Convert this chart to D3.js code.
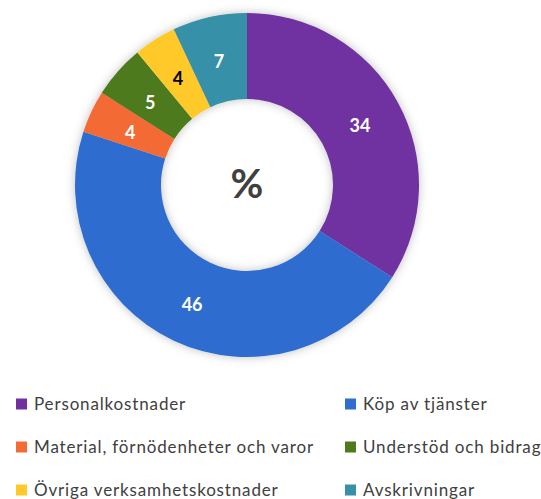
<!DOCTYPE html>
<html>
<head>
<meta charset="utf-8">
<script src="https://cdn.jsdelivr.net/npm/d3@7"></script>
<style>
  body { margin: 0; background: #fff; }
  text { font-family: Lato, "Open Sans", sans-serif; }
</style>
</head>
<body>
<svg width="541" height="499"></svg>
<script>
var categories = ["Personalkostnader", "Köp av tjänster", "Material, förnödenheter och varor",
                  "Understöd och bidrag", "Övriga verksamhetskostnader", "Avskrivningar"];
var values = [34, 46, 4, 5, 4, 7];
var colors = ["#7030A0", "#2F6DCF", "#F46B34", "#4E7A1B", "#FFC92A", "#3590A8"];
var labelColors = ["#fff", "#fff", "#fff", "#fff", "#000", "#fff"];

var svg = d3.select("svg");
var cx = 247, cy = 185, outerR = 172, innerR = 86;

var defs = svg.append("defs");
var f = defs.append("filter").attr("id", "shadow")
    .attr("x", "-20%").attr("y", "-20%").attr("width", "140%").attr("height", "140%");
f.append("feDropShadow").attr("dx", 0).attr("dy", 0).attr("stdDeviation", 5)
    .attr("flood-color", "#000").attr("flood-opacity", 0.25);

var data = categories.map(function (c, i) { return { name: c, value: values[i], i: i }; });

var pie = d3.pie().sort(null).value(function (d) { return d.value; });
var arc = d3.arc().innerRadius(innerR).outerRadius(outerR);
var labelArc = d3.arc().innerRadius((innerR + outerR) / 2).outerRadius((innerR + outerR) / 2);

var g = svg.append("g").attr("transform", "translate(" + cx + "," + cy + ")");

g.append("g").attr("filter", "url(#shadow)")
  .selectAll("path")
  .data(pie(data))
  .enter().append("path")
  .attr("d", arc)
  .attr("fill", function (d) { return colors[d.data.i]; });

g.selectAll(".lbl")
  .data(pie(data))
  .enter().append("text")
  .attr("class", "lbl")
  .attr("transform", function (d) { return "translate(" + labelArc.centroid(d) + ")"; })
  .attr("text-anchor", "middle")
  .attr("dy", "0.5em")
  .attr("font-size", 18)
  .attr("font-weight", "bold")
  .attr("fill", function (d) { return labelColors[d.data.i]; })
  .text(function (d) { return d.data.value; });

g.append("text")
  .attr("text-anchor", "middle")
  .attr("y", -1)
  .attr("dy", "0.35em")
  .attr("font-size", 40)
  .attr("font-weight", "bold")
  .attr("fill", "#404040")
  .text("%");

// legend
var legX = [16, 345], legY = [404, 447, 490];
var leg = svg.selectAll(".leg")
  .data(data)
  .enter().append("g")
  .attr("class", "leg")
  .attr("transform", function (d, i) { return "translate(" + legX[i % 2] + "," + legY[Math.floor(i / 2)] + ")"; });

leg.append("rect").attr("x", 0).attr("y", -5.5).attr("width", 11).attr("height", 11)
  .attr("fill", function (d) { return colors[d.i]; });
leg.append("text").attr("x", 18).attr("dy", "0.35em")
  .attr("font-size", 17).attr("letter-spacing", 0.85).attr("fill", "#404040")
  .text(function (d) { return d.name; });
</script>
</body>
</html>
